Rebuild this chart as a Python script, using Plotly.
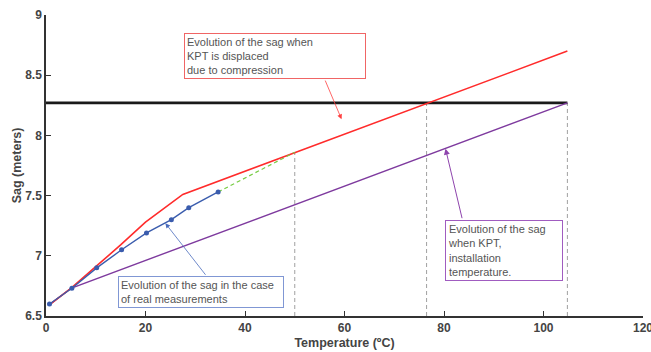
import plotly.graph_objects as go

# Data
red_x = [0.6, 5.0, 10.0, 15.0, 20.0, 27.5, 104.8]
red_y = [6.59, 6.73, 6.91, 7.09, 7.28, 7.51, 8.70]

blue_x = [0.7, 5.2, 10.2, 15.2, 20.2, 25.2, 28.7, 34.6]
blue_y = [6.60, 6.73, 6.90, 7.05, 7.19, 7.30, 7.40, 7.53]

green_x = [34.6, 50.0]
green_y = [7.53, 7.86]

purple_x = [0.6, 5.0, 104.8]
purple_y = [6.59, 6.73, 8.27]

black_x = [0.0, 104.8]
black_y = [8.27, 8.27]

vline_x = [50.0, 76.5, 104.8]
vline_top = [7.86, 8.27, 8.27]

xticks = [0, 20, 40, 60, 80, 100, 120]
yticks = [6.5, 7, 7.5, 8, 8.5, 9]

fig = go.Figure()

for vx, vt in zip(vline_x, vline_top):
    fig.add_trace(go.Scatter(x=[vx, vx], y=[6.5, vt], mode="lines",
                             line=dict(color="#a0a0a0", width=1, dash="4px,3px"),
                             showlegend=False, hoverinfo="skip"))

fig.add_trace(go.Scatter(x=black_x, y=black_y, mode="lines",
                         line=dict(color="#1a1a1a", width=2.6), showlegend=False))
fig.add_trace(go.Scatter(x=purple_x, y=purple_y, mode="lines",
                         line=dict(color="#7e3a9e", width=1.4), showlegend=False))
fig.add_trace(go.Scatter(x=red_x, y=red_y, mode="lines",
                         line=dict(color="#ff2b2b", width=1.6), showlegend=False))
fig.add_trace(go.Scatter(x=green_x, y=green_y, mode="lines",
                         line=dict(color="#77cc44", width=1.2, dash="4px,3px"), showlegend=False))
fig.add_trace(go.Scatter(x=blue_x, y=blue_y, mode="lines+markers",
                         line=dict(color="#3a5cad", width=1.4),
                         marker=dict(color="#3a5cad", size=5), showlegend=False))

txt_font = dict(family="Liberation Sans, Arial, sans-serif", size=11, color="#555555")

# Text boxes
fig.add_annotation(x=27.7, y=8.85, xref="x", yref="y", xanchor="left", yanchor="top",
                   text="Evolution of the sag when<br>KPT is displaced<br>due to compression",
                   align="left", showarrow=False, font=txt_font, width=176, height=40,
                   bordercolor="#f06565", borderwidth=1, borderpad=2, bgcolor="white")
fig.add_annotation(x=14.5, y=6.83, xref="x", yref="y", xanchor="left", yanchor="top",
                   text="Evolution of the sag in the case<br>of real measurements",
                   align="left", showarrow=False, font=txt_font, width=160, height=26,
                   bordercolor="#8097d4", borderwidth=1, borderpad=2, bgcolor="white")
fig.add_annotation(x=80.3, y=7.30, xref="x", yref="y", xanchor="left", yanchor="top",
                   text="Evolution of the sag<br>when KPT,<br>installation<br>temperature.",
                   align="left", showarrow=False, font=txt_font, width=112, height=55,
                   bordercolor="#a05cc0", borderwidth=1, borderpad=2, bgcolor="white")

# Arrows
fig.add_annotation(x=59.4, y=8.135, ax=56.0, ay=8.468, xref="x", yref="y", axref="x", ayref="y",
                   text="", showarrow=True, arrowhead=2, arrowsize=1.2, arrowwidth=0.8,
                   arrowcolor="#ff4040")
fig.add_annotation(x=24.0, y=7.27, ax=32.3, ay=6.83, xref="x", yref="y", axref="x", ayref="y",
                   text="", showarrow=True, arrowhead=2, arrowsize=1.2, arrowwidth=0.8,
                   arrowcolor="#4a6cbd")
fig.add_annotation(x=80.3, y=7.89, ax=83.7, ay=7.30, xref="x", yref="y", axref="x", ayref="y",
                   text="", showarrow=True, arrowhead=2, arrowsize=1.2, arrowwidth=1.0,
                   arrowcolor="#8e44ad")

axis_font = dict(family="Liberation Sans, Arial, sans-serif", size=12, color="#444444")

fig.update_layout(
    width=651, height=352,
    margin=dict(l=46, r=8, t=15, b=36, autoexpand=False),
    paper_bgcolor="white", plot_bgcolor="white",
    font=axis_font,
    xaxis=dict(range=[0, 120], tickvals=xticks, ticktext=[f"<b>{v}</b>" for v in xticks],
               ticks="inside", ticklen=5, tickcolor="#333333", showline=True,
               ticklabeloverflow="allow", automargin=False,
               linecolor="#333333", linewidth=1.5, showgrid=False, zeroline=False,
               title=dict(text="<b>Temperature (ºC)</b>", standoff=4,
                          font=dict(size=12.5, color="#444444"))),
    yaxis=dict(range=[6.5, 9], tickvals=yticks, ticktext=[f"<b>{v}</b>" for v in yticks],
               ticks="inside", ticklen=5, tickcolor="#333333", showline=True,
               automargin=False,
               linecolor="#333333", linewidth=1.5, showgrid=False, zeroline=False,
               title=dict(text="<b>Sag (meters)</b>", standoff=1,
                          font=dict(size=12.5, color="#444444"))),
)

fig.write_html("out.html")
